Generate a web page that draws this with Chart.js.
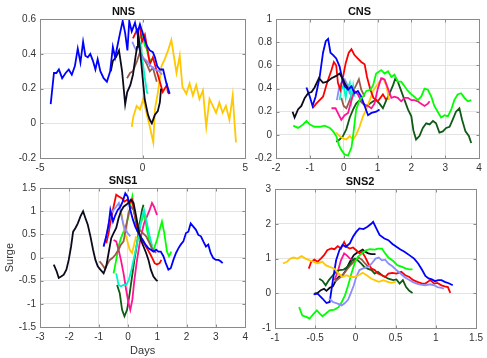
<!DOCTYPE html>
<html>
<head>
<meta charset="utf-8">
<script src="https://cdn.jsdelivr.net/npm/chart.js@4/dist/chart.umd.min.js"></script>
<style>
  body { margin: 0; background: #fff; }
  #wrap { position: relative; width: 487px; height: 358px; overflow: hidden; }
  .panel { position: absolute; }
</style>
</head>
<body>
<div id="wrap">
  <div class="panel" style="left:0px;top:0px"><canvas id="nns" width="252" height="178"></canvas></div>
  <div class="panel" style="left:240px;top:0px"><canvas id="cns" width="247" height="178"></canvas></div>
  <div class="panel" style="left:0px;top:170px"><canvas id="sns1" width="252" height="188"></canvas></div>
  <div class="panel" style="left:240px;top:170px"><canvas id="sns2" width="247" height="188"></canvas></div>
</div>
<script>
// colours used for the storms
const cores = {
  blue: '#0000ff', red: '#ff0000', black: '#0b0b1e', yellow: '#ffc800',
  green: '#00ff00', darkgreen: '#0f5a14', magenta: '#ff1493', cyan: '#00f5c8',
  brown: '#9a5a4a', lavender: '#8c8cff'
}

// ---- NNS ----
const nnsBlue = [[-4.48,0.11],[-4.32,0.29],[-4.2,0.29],[-4.08,0.31],[-3.92,0.26],[-3.75,0.29],[-3.6,0.31],[-3.45,0.28],[-3.3,0.33],[-3.16,0.43],[-3.03,0.35],[-2.9,0.47],[-2.79,0.39],[-2.67,0.38],[-2.55,0.4],[-2.42,0.36],[-2.3,0.31],[-2.19,0.37],[-2.06,0.3],[-1.9,0.26],[-1.74,0.24],[-1.58,0.3],[-1.45,0.44],[-1.34,0.38],[-1.22,0.45],[-1.1,0.52],[-0.97,0.59],[-0.85,0.52],[-0.74,0.42],[-0.65,0.59],[-0.53,0.53],[-0.37,0.58],[-0.26,0.52],[-0.13,0.57],[0,0.52],[0.19,0.45],[0.35,0.42],[0.5,0.41],[0.6,0.38],[0.71,0.33],[0.84,0.31],[1.0,0.31],[1.16,0.23],[1.32,0.17]]
const nnsYellow = [[-0.53,-0.02],[-0.45,0.04],[-0.29,0.1],[-0.13,0.08],[0.03,0.14],[0.19,0.06],[0.35,-0.02],[0.52,-0.11],[0.6,0.08],[0.76,0.19],[0.92,0.33],[1.08,0.37],[1.24,0.42],[1.4,0.48],[1.52,0.39],[1.65,0.29],[1.81,0.39],[1.94,0.21],[2.13,0.17],[2.29,0.23],[2.45,0.16],[2.61,0.22],[2.77,0.14],[2.94,0.19],[3.1,-0.02],[3.26,0.14],[3.42,0.1],[3.58,0.06],[3.74,0.12],[3.9,0.06],[4.06,0.1],[4.23,0.02],[4.39,0.16],[4.47,0.02],[4.55,-0.11]]
const nnsBlack = [[-1.55,0.3],[-1.45,0.36],[-1.3,0.38],[-1.15,0.42],[-1.0,0.3],[-0.85,0.11],[-0.75,0.18],[-0.6,0.22],[-0.47,0.28],[-0.35,0.38],[-0.27,0.44],[-0.23,0.54],[-0.15,0.45],[-0.05,0.33],[0.02,0.24],[0.1,0.14],[0.26,0.05],[0.35,0.02],[0.45,0.0],[0.6,0.05],[0.74,0.07],[0.84,0.12],[0.9,0.2]]
const nnsRed = [[-0.47,0.49],[-0.27,0.54],[-0.13,0.55],[-0.03,0.47],[0.11,0.51],[0.26,0.41],[0.35,0.34],[0.5,0.38],[0.69,0.3],[0.84,0.24],[0.98,0.18],[1.18,0.22],[1.23,0.18],[1.3,0.17]]
const nnsBrown = [[-0.76,0.26],[-0.61,0.29],[-0.47,0.3],[-0.27,0.36],[-0.13,0.41],[0.02,0.38],[0.21,0.34],[0.35,0.3],[0.5,0.32],[0.69,0.24]]
const nnsCyan = [[-0.23,0.51],[-0.08,0.44],[0.02,0.34],[0.11,0.26],[0.21,0.18],[0.26,0.17]]
const nnsGreen = [[-0.1,0.49],[0,0.52],[0.1,0.45],[0.2,0.43],[0.3,0.38],[0.4,0.36]]
const nnsLavender = [[-0.5,0.47],[-0.4,0.44],[-0.3,0.42],[-0.2,0.45],[-0.1,0.4],[0,0.38],[0.2,0.36],[0.4,0.33],[0.6,0.31],[0.8,0.3],[0.95,0.28]]

// ---- CNS ----
const cnsBlue = [[-1.1,0.41],[-1.0,0.33],[-0.92,0.25],[-0.83,0.33],[-0.71,0.5],[-0.61,0.71],[-0.53,0.81],[-0.46,0.83],[-0.39,0.71],[-0.31,0.69],[-0.22,0.66],[-0.12,0.59],[-0.04,0.48],[0.03,0.42],[0.13,0.39],[0.23,0.42],[0.32,0.36],[0.42,0.38],[0.52,0.33],[0.62,0.25],[0.72,0.17],[0.82,0.19],[0.96,0.2],[1.06,0.22]]
const cnsRed = [[-0.92,0.23],[-0.81,0.27],[-0.71,0.3],[-0.61,0.33],[-0.49,0.45],[-0.36,0.56],[-0.29,0.63],[-0.22,0.6],[-0.17,0.45],[-0.1,0.39],[-0.02,0.5],[0.06,0.62],[0.15,0.71],[0.23,0.74],[0.32,0.69],[0.42,0.66],[0.52,0.63],[0.62,0.61],[0.69,0.5],[0.79,0.39],[0.88,0.32],[1.01,0.29],[1.16,0.35],[1.26,0.3]]
const cnsBlack = [[-1.51,0.2],[-1.45,0.15],[-1.35,0.22],[-1.25,0.25],[-1.15,0.32],[-1.05,0.36],[-0.95,0.37],[-0.86,0.41],[-0.73,0.49],[-0.61,0.45],[-0.49,0.46],[-0.36,0.49],[-0.22,0.51],[-0.12,0.53],[-0.02,0.48],[0.06,0.43],[0.13,0.4]]
const cnsGreen = [[-1.49,0.08],[-1.35,0.06],[-1.2,0.09],[-1.1,0.12],[-1.0,0.09],[-0.86,0.07],[-0.71,0.07],[-0.56,0.08],[-0.41,0.06],[-0.31,0.03],[-0.22,-0.01],[-0.14,-0.09],[-0.07,-0.13],[0.03,-0.17],[0.13,-0.18],[0.23,-0.11],[0.29,0.02],[0.37,0.22],[0.47,0.3],[0.57,0.33],[0.67,0.38],[0.79,0.39],[0.87,0.43],[0.96,0.53],[1.11,0.56],[1.21,0.53],[1.31,0.55],[1.41,0.5],[1.5,0.52],[1.6,0.46],[1.7,0.46],[1.8,0.42],[1.9,0.38],[2.0,0.35],[2.09,0.33],[2.19,0.3],[2.29,0.33],[2.39,0.4],[2.49,0.39],[2.59,0.33],[2.68,0.25],[2.78,0.2],[2.88,0.15],[2.98,0.17],[3.08,0.16],[3.18,0.22],[3.27,0.3],[3.37,0.35],[3.47,0.36],[3.57,0.32],[3.67,0.29],[3.77,0.3]]
const cnsDarkGreen = [[-0.22,-0.06],[-0.12,-0.04],[-0.02,-0.01],[0.08,0.05],[0.18,0.15],[0.28,0.22],[0.37,0.27],[0.47,0.3],[0.57,0.27],[0.67,0.25],[0.77,0.27],[0.87,0.29],[0.96,0.3],[1.06,0.27],[1.16,0.23],[1.26,0.3],[1.36,0.36],[1.46,0.43],[1.53,0.49],[1.6,0.46],[1.7,0.38],[1.8,0.3],[1.9,0.22],[2.0,0.16],[2.06,0.04],[2.14,-0.04],[2.24,-0.01],[2.34,0.06],[2.44,0.1],[2.54,0.09],[2.64,0.12],[2.73,0.1],[2.83,0.02],[2.93,0.03],[3.03,0.06],[3.13,0.07],[3.22,0.13],[3.32,0.2],[3.42,0.23],[3.5,0.13],[3.6,0.03],[3.7,-0.01],[3.77,-0.07]]
const cnsMagenta = [[-0.36,0.23],[-0.24,0.23],[-0.14,0.17],[-0.07,0.13],[0.03,0.17],[0.13,0.19],[0.23,0.3],[0.32,0.38],[0.42,0.35],[0.52,0.29],[0.62,0.26],[0.72,0.25],[0.82,0.23],[0.91,0.27],[1.01,0.4],[1.11,0.49],[1.21,0.48],[1.31,0.4],[1.41,0.32],[1.5,0.33],[1.6,0.32],[1.7,0.29],[1.8,0.32],[1.9,0.32],[2.0,0.3],[2.09,0.3],[2.19,0.29],[2.29,0.27],[2.39,0.25],[2.49,0.27],[2.54,0.29]]
const cnsYellow = [[-0.22,0.02],[-0.12,-0.01],[-0.02,-0.03],[0.08,-0.04],[0.18,-0.01],[0.28,-0.04],[0.37,0.0],[0.47,0.07],[0.57,0.16],[0.67,0.22],[0.77,0.3],[0.87,0.38],[0.96,0.42],[1.06,0.46],[1.16,0.49],[1.26,0.43],[1.34,0.3]]
const cnsCyan = [[-0.12,0.3],[-0.07,0.39],[0,0.43],[0.06,0.32],[0.1,0.39],[0.18,0.45],[0.23,0.3],[0.28,0.42],[0.32,0.33]]
const cnsBrown = [[-0.07,0.32],[0,0.25],[0.08,0.23],[0.18,0.3],[0.28,0.38],[0.37,0.43],[0.45,0.48],[0.52,0.39],[0.62,0.33]]
const cnsLavender = [[-0.2,0.3],[-0.14,0.4],[-0.07,0.45],[0.03,0.48],[0.13,0.42],[0.18,0.35]]

// ---- SNS1 ----
const sns1Black = [[-2.53,-0.15],[-2.43,-0.3],[-2.36,-0.44],[-2.28,-0.41],[-2.19,-0.37],[-2.1,-0.26],[-2.02,-0.05],[-1.94,0.24],[-1.87,0.56],[-1.79,0.64],[-1.71,0.74],[-1.62,0.89],[-1.53,1.0],[-1.45,0.85],[-1.37,0.71],[-1.28,0.46],[-1.19,0.17],[-1.11,-0.05],[-1.03,-0.19],[-0.94,-0.26],[-0.83,-0.34],[-0.74,-0.19],[-0.66,0.1],[-0.57,0.42],[-0.49,0.53],[-0.4,0.64],[-0.32,0.85],[-0.24,1.0],[-0.15,1.1],[-0.06,1.14],[0.02,1.19],[0.1,1.25],[0.19,1.18],[0.28,0.89],[0.36,0.6],[0.44,0.38],[0.53,0.24],[0.62,0.1],[0.7,-0.05],[0.78,-0.26],[0.87,-0.41],[0.96,-0.48],[1.01,-0.51]]
const sns1Blue = [[-0.83,0.24],[-0.74,0.46],[-0.66,0.71],[-0.6,1.03],[-0.51,0.78],[-0.43,0.92],[-0.35,1.03],[-0.26,1.1],[-0.18,1.21],[-0.09,1.39],[-0.01,1.32],[0.08,1.03],[0.17,0.82],[0.25,0.67],[0.33,0.56],[0.42,0.46],[0.51,0.38],[0.6,0.28],[0.7,0.2],[0.78,0.17],[0.87,0.13],[0.96,0.17],[1.04,0.13],[1.12,0.13],[1.21,0.03],[1.29,-0.12],[1.38,-0.26],[1.46,-0.23],[1.55,-0.05],[1.64,0.1],[1.72,0.2],[1.8,0.28],[1.89,0.35],[1.98,0.53],[2.06,0.56],[2.14,0.74],[2.23,0.67],[2.32,0.6],[2.4,0.49],[2.49,0.46],[2.57,0.35],[2.66,0.24],[2.74,0.28],[2.82,0.1],[2.91,-0.01],[3.0,-0.05],[3.09,-0.05],[3.16,-0.08],[3.23,-0.12]]
const sns1Red = [[-0.74,0.31],[-0.66,0.53],[-0.58,0.82],[-0.49,1.1],[-0.4,1.36],[-0.31,1.32],[-0.2,1.28],[-0.12,1.21],[-0.03,1.25],[0.06,1.18],[0.14,1.25],[0.22,0.96],[0.31,0.67],[0.4,0.49],[0.48,0.38],[0.55,0.31],[0.65,0.2],[0.74,0.1],[0.83,-0.01],[0.91,-0.12],[0.99,-0.15],[1.08,-0.12],[1.14,-0.05]]
const sns1Green = [[-0.49,-0.34],[-0.4,-0.05],[-0.32,0.24],[-0.24,0.42],[-0.15,0.56],[-0.06,0.71],[0.02,0.89],[0.1,1.18],[0.15,1.32],[0.22,0.96],[0.31,0.6],[0.4,0.67],[0.48,0.82],[0.55,0.96],[0.65,0.6],[0.72,0.38],[0.82,0.17],[0.89,0.2],[0.99,0.38],[1.08,0.6],[1.16,0.78],[1.24,0.53],[1.33,0.13],[1.4,0.03],[1.48,0.13]]
const sns1DarkGreen = [[-0.37,-0.59],[-0.28,-0.77],[-0.2,-1.13],[-0.12,-1.27],[-0.03,-1.13],[0.06,-0.77],[0.14,-0.41],[0.22,-0.05],[0.31,0.31],[0.4,0.74],[0.48,1.03],[0.53,1.14]]
const sns1Magenta = [[-0.49,0.38],[-0.4,0.35],[-0.32,0.17],[-0.24,-0.05],[-0.15,-0.34],[-0.06,-0.7],[0.02,-0.98],[0.08,-1.13],[0.15,-0.91],[0.22,-0.48],[0.31,-0.05],[0.4,0.31],[0.48,0.56],[0.55,0.74],[0.65,0.89],[0.74,1.03],[0.82,1.18],[0.89,1.1],[0.99,0.92]]
const sns1Yellow = [[-0.28,1.1],[-0.2,0.89],[-0.12,0.56],[-0.03,0.38],[0.06,0.17],[0.14,0.1],[0.22,0.31],[0.28,0.46]]
const sns1Cyan = [[-0.4,-0.34],[-0.32,-0.59],[-0.24,-0.62],[-0.15,-0.59],[-0.06,-0.59],[0.03,-0.48],[0.12,-0.26],[0.22,0.03],[0.31,0.31],[0.4,0.6],[0.48,0.89],[0.55,1.03],[0.65,0.74],[0.74,0.46],[0.83,0.24]]
const sns1Brown = [[-0.97,-0.08],[-0.88,-0.15],[-0.8,-0.23],[-0.71,-0.15],[-0.62,-0.05],[-0.53,-0.01],[-0.43,0.06],[-0.32,0.17],[-0.24,0.28],[-0.15,0.35],[-0.06,0.67],[0.02,0.96],[0.1,1.1],[0.19,1.03],[0.28,0.82],[0.4,0.6],[0.51,0.53],[0.62,0.46],[0.74,0.31],[0.85,0.17],[0.96,0.1]]
const sns1Lavender = [[-0.83,0.24],[-0.74,0.46],[-0.66,0.74],[-0.57,0.96],[-0.49,1.03],[-0.4,1.1],[-0.31,1.18],[-0.24,0.96],[-0.17,0.74],[-0.09,0.6],[-0.01,0.53],[0.08,0.46]]

// ---- SNS2 ----
const sns2Blue = [[-0.52,-0.03],[-0.47,-0.01],[-0.41,-0.15],[-0.36,-0.28],[-0.32,-0.25],[-0.28,0.38],[-0.24,0.95],[-0.2,1.24],[-0.16,1.39],[-0.12,1.34],[-0.07,1.44],[-0.03,1.63],[0.01,1.77],[0.05,1.87],[0.1,1.85],[0.15,1.92],[0.2,2.01],[0.22,2.06],[0.26,1.87],[0.3,1.68],[0.36,1.58],[0.41,1.53],[0.46,1.42],[0.51,1.34],[0.56,1.26],[0.61,1.2],[0.67,1.1],[0.73,1.0],[0.78,0.86],[0.83,0.67],[0.87,0.5],[0.91,0.43],[0.95,0.4],[0.99,0.35],[1.03,0.38],[1.07,0.38],[1.11,0.33],[1.16,0.29],[1.21,0.23]]
const sns2Red = [[-0.58,0.71],[-0.55,0.91],[-0.51,0.97],[-0.47,0.91],[-0.43,1.0],[-0.39,1.1],[-0.35,1.24],[-0.3,1.29],[-0.26,1.27],[-0.22,1.36],[-0.18,1.29],[-0.14,1.48],[-0.11,1.34],[-0.07,1.29],[-0.03,1.32],[0.01,1.24],[0.05,1.15],[0.08,1.2],[0.12,1.05],[0.16,0.86],[0.2,0.71],[0.24,0.67],[0.28,0.57],[0.33,0.52],[0.37,0.47],[0.41,0.57],[0.46,0.59],[0.51,0.57],[0.57,0.62],[0.62,0.52],[0.67,0.47],[0.72,0.38],[0.77,0.33],[0.83,0.28],[0.87,0.28],[0.93,0.38],[0.98,0.28],[1.02,0.3],[1.07,0.23],[1.11,0.2],[1.15,0.18],[1.18,0.01]]
const sns2Yellow = [[-0.9,0.86],[-0.85,0.91],[-0.81,1.0],[-0.77,1.03],[-0.72,1.0],[-0.67,1.07],[-0.62,1.0],[-0.57,0.95],[-0.52,0.91],[-0.47,0.86],[-0.41,0.91],[-0.37,0.81],[-0.32,0.76],[-0.26,0.71],[-0.21,0.57],[-0.16,0.47],[-0.11,0.52],[-0.06,0.47],[-0.01,0.47],[0.04,0.52],[0.09,0.59],[0.14,0.52],[0.2,0.42],[0.24,0.38],[0.29,0.33],[0.35,0.38],[0.4,0.33],[0.45,0.3],[0.5,0.33]]
const sns2Green = [[-0.7,-0.4],[-0.66,-0.64],[-0.61,-0.68],[-0.57,-0.73],[-0.52,-0.59],[-0.48,-0.49],[-0.44,-0.59],[-0.41,-0.66],[-0.37,-0.59],[-0.32,-0.49],[-0.26,-0.47],[-0.21,-0.4],[-0.17,-0.25],[-0.13,-0.06],[-0.09,0.23],[-0.05,0.57],[-0.01,0.86],[0.03,1.05],[0.08,1.15],[0.13,1.24],[0.18,1.27],[0.24,1.26],[0.28,1.29],[0.33,1.29],[0.37,1.15],[0.41,1.03],[0.47,0.93],[0.52,0.81],[0.58,0.76],[0.63,0.71],[0.67,0.69],[0.71,0.69]]
const sns2DarkGreen = [[-0.45,0.42],[-0.41,0.36],[-0.37,0.23],[-0.33,0.38],[-0.28,0.52],[-0.24,0.62],[-0.2,0.67],[-0.15,0.68],[-0.11,0.74],[-0.07,0.84],[-0.04,0.95],[-0.01,1.0],[0.03,0.95],[0.07,0.86],[0.11,0.76],[0.15,0.71],[0.2,0.67],[0.24,0.57],[0.28,0.62],[0.33,0.52],[0.37,0.47],[0.41,0.42],[0.47,0.38],[0.51,0.4],[0.55,0.28],[0.59,0.38],[0.63,0.18],[0.67,0.07],[0.71,0.01]]
const sns2Black = [[-0.51,-0.01],[-0.47,0.01],[-0.43,0.09],[-0.39,0.13],[-0.36,0.07],[-0.32,0.16],[-0.28,0.2],[-0.24,0.38],[-0.2,0.49],[-0.16,0.52],[-0.13,0.62],[-0.09,0.81],[-0.06,0.95],[-0.02,1.1],[0.02,1.17],[0.06,1.22],[0.09,1.26],[0.12,1.2],[0.16,1.15],[0.2,1.13],[0.25,1.13]]
const sns2Magenta = [[-0.26,0.38],[-0.22,0.62],[-0.18,0.95],[-0.14,1.15],[-0.11,1.1],[-0.08,1.03],[-0.04,0.95],[0,0.91]]
const sns2Lavender = [[-0.33,-0.15],[-0.28,-0.25],[-0.22,-0.3],[-0.17,-0.35],[-0.13,-0.28],[-0.09,-0.18],[-0.06,-0.01],[-0.02,0.23],[0.01,0.47],[0.05,0.67],[0.09,0.71],[0.13,0.74],[0.17,0.78],[0.21,0.88],[0.25,1.0],[0.29,1.03],[0.33,0.95],[0.37,0.97],[0.41,0.86],[0.46,0.78],[0.51,0.67],[0.56,0.57],[0.61,0.47],[0.66,0.4],[0.71,0.33],[0.76,0.28],[0.81,0.25],[0.87,0.23],[0.93,0.26],[0.98,0.23],[1.02,0.18],[1.07,0.16],[1.1,0.13]]
const sns2Brown = [[-0.26,0.33],[-0.21,0.42],[-0.16,0.52],[-0.11,0.67],[-0.06,0.81],[-0.01,0.93],[0.04,1.03],[0.08,0.97],[0.12,0.86],[0.16,0.76]]

// moldura de caixa estilo matlab, com tracinhos para dentro
const caixa = {
  id: 'caixa',
  afterDraw(chart) {
    const a = chart.chartArea
    const ctx = chart.ctx
    const l = Math.round(a.left) + 0.5, t = Math.round(a.top) + 0.5
    const r = Math.round(a.right) + 0.5, b = Math.round(a.bottom) + 0.5
    ctx.save()
    ctx.strokeStyle = '#8a8a8a'
    ctx.lineWidth = 1
    ctx.strokeRect(l, t, r - l, b - t)
    ctx.beginPath()
    chart.scales.x.ticks.forEach((tk) => {
      const px = Math.round(chart.scales.x.getPixelForValue(tk.value)) + 0.5
      ctx.moveTo(px, b); ctx.lineTo(px, b - 3)
      ctx.moveTo(px, t); ctx.lineTo(px, t + 3)
    })
    chart.scales.y.ticks.forEach((tk) => {
      const py = Math.round(chart.scales.y.getPixelForValue(tk.value)) + 0.5
      ctx.moveTo(l, py); ctx.lineTo(l + 3, py)
      ctx.moveTo(r, py); ctx.lineTo(r - 3, py)
    })
    ctx.stroke()
    ctx.restore()
  }
}

function serie(pontos, cor) {
  return {
    data: pontos.map(p => ({ x: p[0], y: p[1] })),
    borderColor: cor,
    borderWidth: 1.8,
    pointRadius: 0,
    tension: 0,
    fill: false
  }
}

function rotulo(v) {
  return String(+Number(v).toFixed(2))
}

function criarPainel(id, titulo, series, cfg) {
  const fonteTick = { family: 'Liberation Sans, Arial, sans-serif', size: 10 }
  const grade = { color: '#e3e3e3', drawTicks: false, lineWidth: 1 }
  return new Chart(document.getElementById(id), {
    type: 'line',
    data: { datasets: series },
    plugins: [caixa],
    options: {
      responsive: false,
      animation: false,
      layout: { padding: { left: 0, right: cfg.padRight, top: 0, bottom: 0 } },
      plugins: {
        legend: { display: false },
        tooltip: { enabled: false },
        title: {
          display: true,
          text: titulo,
          color: '#111',
          font: { family: 'Liberation Sans, Arial, sans-serif', size: 11, weight: 'bold' },
          padding: { top: cfg.titleTop, bottom: cfg.titleBottom }
        }
      },
      scales: {
        x: {
          type: 'linear',
          min: cfg.x[0], max: cfg.x[1],
          ticks: { stepSize: cfg.x[2], color: '#333', font: fonteTick, padding: 4, callback: rotulo, maxRotation: 0 },
          grid: grade,
          border: { display: false },
          title: { display: !!cfg.xTitle, text: cfg.xTitle || '', color: '#333', font: { family: 'Liberation Sans, Arial, sans-serif', size: 11 }, padding: { top: 0, bottom: 0 } },
          afterFit(scale) { scale.height = cfg.xHeight }
        },
        y: {
          type: 'linear',
          min: cfg.y[0], max: cfg.y[1],
          ticks: { stepSize: cfg.y[2], color: '#333', font: fonteTick, padding: 4, callback: rotulo },
          grid: grade,
          border: { display: false },
          title: { display: !!cfg.yTitle, text: cfg.yTitle || '', color: '#333', font: { family: 'Liberation Sans, Arial, sans-serif', size: 11 }, padding: { top: 3, bottom: 0 } },
          afterFit(scale) { scale.width = cfg.yWidth }
        }
      }
    }
  })
}

criarPainel('nns', 'NNS', [
  serie(nnsBlue, cores.blue), serie(nnsBlack, cores.black), serie(nnsLavender, cores.lavender),
  serie(nnsBrown, cores.brown), serie(nnsRed, cores.red), serie(nnsGreen, cores.green),
  serie(nnsCyan, cores.cyan), serie(nnsYellow, cores.yellow)
], { x: [-5, 5, 5], y: [-0.2, 0.6, 0.2], padRight: 5, yWidth: 40, xHeight: 20, titleTop: 5, titleBottom: 1 })

criarPainel('cns', 'CNS', [
  serie(cnsGreen, cores.green), serie(cnsBlack, cores.black), serie(cnsBlue, cores.blue),
  serie(cnsRed, cores.red), serie(cnsMagenta, cores.magenta), serie(cnsLavender, cores.lavender),
  serie(cnsCyan, cores.cyan), serie(cnsBrown, cores.brown), serie(cnsYellow, cores.yellow),
  serie(cnsDarkGreen, cores.darkgreen)
], { x: [-2, 4, 1], y: [-0.2, 1, 0.2], padRight: 8, yWidth: 36, xHeight: 20, titleTop: 5, titleBottom: 1 })

criarPainel('sns1', 'SNS1', [
  serie(sns1Black, cores.black), serie(sns1Blue, cores.blue), serie(sns1Lavender, cores.lavender),
  serie(sns1Brown, cores.brown), serie(sns1Red, cores.red), serie(sns1Yellow, cores.yellow),
  serie(sns1Cyan, cores.cyan), serie(sns1Magenta, cores.magenta), serie(sns1Green, cores.green),
  serie(sns1DarkGreen, cores.darkgreen)
], { x: [-3, 4, 1], y: [-1.5, 1.5, 0.5], padRight: 6, yWidth: 40, xHeight: 31, titleTop: 4, titleBottom: 1, xTitle: 'Days', yTitle: 'Surge' })

criarPainel('sns2', 'SNS2', [
  serie(sns2Yellow, cores.yellow), serie(sns2Lavender, cores.lavender), serie(sns2Green, cores.green),
  serie(sns2Blue, cores.blue), serie(sns2Red, cores.red), serie(sns2DarkGreen, cores.darkgreen),
  serie(sns2Brown, cores.brown), serie(sns2Magenta, cores.magenta), serie(sns2Black, cores.black)
], { x: [-1, 1.5, 0.5], y: [-1, 3, 1], padRight: 7, yWidth: 35, xHeight: 30, titleTop: 5, titleBottom: 1 })
</script>
</body>
</html>
